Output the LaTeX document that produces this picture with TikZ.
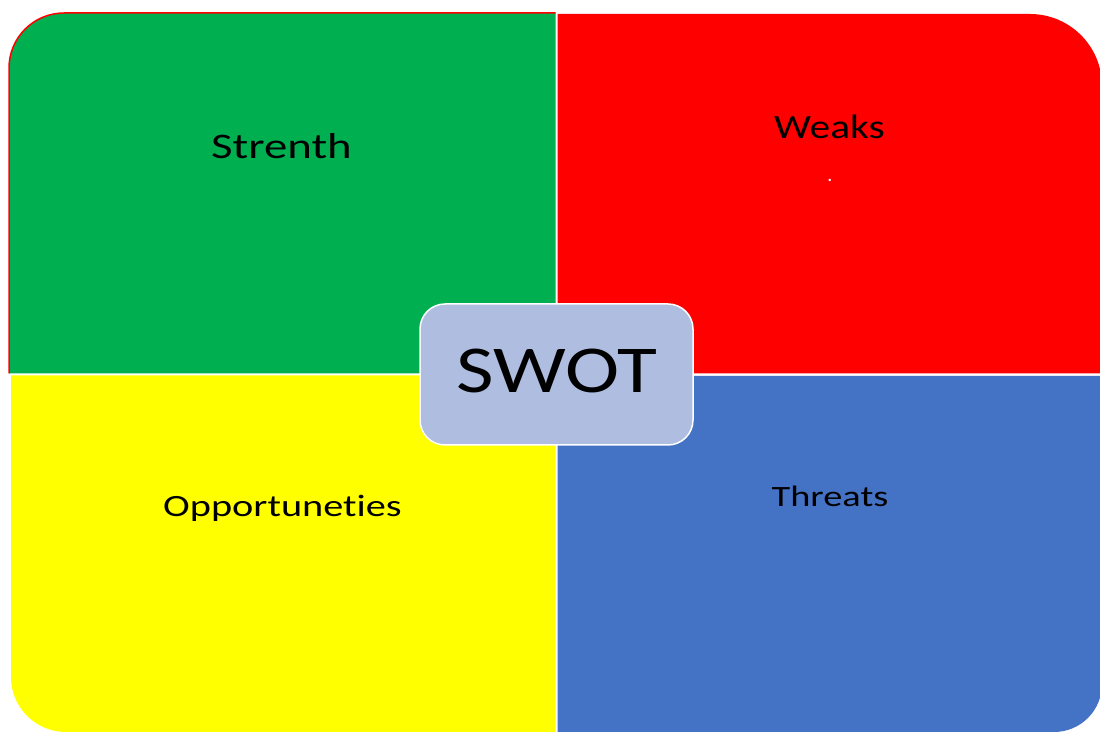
\documentclass[tikz,border=0pt]{standalone}
\usepackage{fontspec}
\setmainfont{Carlito}
\newfontfamily\fstrA[FakeStretch=1.30,Ligatures=NoCommon]{Carlito}
\newfontfamily\fstrB[FakeStretch=1.22,Ligatures=NoCommon]{Carlito}
\definecolor{swgreen}{HTML}{00B050}
\definecolor{swred}{HTML}{FF0000}
\definecolor{swyellow}{HTML}{FFFF00}
\definecolor{swblue}{HTML}{4472C4}
\definecolor{swbox}{HTML}{AFBDE0}
\tikzset{
  lbl/.style={anchor=base, inner sep=0pt, text=black},
}
\begin{document}
\begin{tikzpicture}[x=1pt,y=1pt]
\fill[white] (0,0) rectangle (1100,731);
\useasboundingbox (0,0) rectangle (1100,731);
% quadrants
\fill[swgreen] (555.5,357.5) -- (9,357.5) -- (9,663) arc[start angle=180,end angle=90,radius=55] -- (555.5,718) -- cycle;
\draw[swred,line width=1.5pt] (9,357.5) -- (9,663) arc[start angle=180,end angle=90,radius=55] -- (555.5,718);
\fill[swred] (557.5,357.5) -- (557.5,717) -- (1030,717) arc[start angle=90,end angle=0,radius=72] -- (1102,357.5) -- cycle;
\fill[swyellow] (555.5,355.5) -- (11,355.5) -- (11,54) arc[start angle=180,end angle=270,radius=55] -- (555.5,-1) -- cycle;
\fill[swblue] (557.5,355) -- (1102,355) -- (1102,47) arc[start angle=0,end angle=-90,radius=48] -- (557.5,-1) -- cycle;
% labels
\node[lbl] (s) at (281.5,572) {\fontsize{36}{40}\fstrA Strenth};
\node[lbl] (w) at (829.5,592) {\fontsize{34}{38}\fstrB Weaks};
\node[lbl,text=white] (dot) at (830,549) {\fontsize{20}{22}\selectfont .};
\node[lbl] (o) at (282.5,214.5) {\fontsize{31}{35}\fstrA Opportuneties};
\node[lbl] (t) at (830,224) {\fontsize{29.5}{33}\fstrA Threats};
% centre box
\node[draw=white,line width=1.5pt,fill=swbox,rounded corners=25pt,minimum width=273pt,minimum height=141pt,inner sep=0pt] (box) at (556.5,356.5) {};
\node[lbl] (swot) at (556.5,338) {\fontsize{67}{70}\fstrB SWOT};
\end{tikzpicture}
\end{document}
